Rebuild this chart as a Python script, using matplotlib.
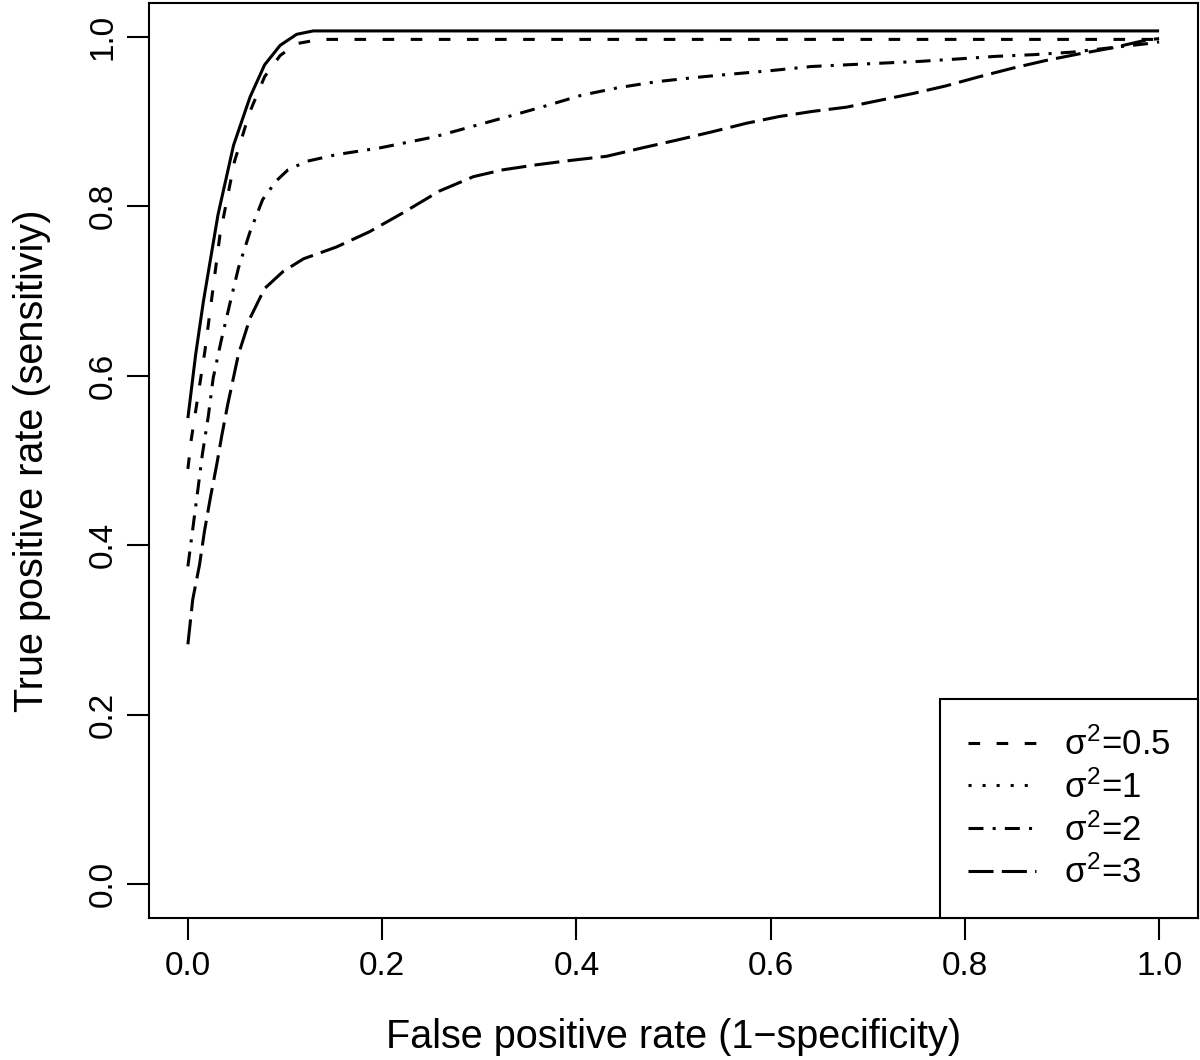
import numpy as np
import matplotlib
matplotlib.use("Agg")
import matplotlib.pyplot as plt
from matplotlib.lines import Line2D


# =========================
# 1. 数据（从原图读取的 ROC 曲线点）
# =========================

# 实线（最上面一条，图例中没有）
fpr_solid = [0.0, 0.008, 0.016, 0.031, 0.047, 0.064, 0.079, 0.095, 0.112, 0.129, 0.2, 0.4, 0.6, 0.8, 1.0]
tpr_solid = [0.55, 0.625, 0.688, 0.79, 0.872, 0.929, 0.967, 0.990, 1.003, 1.007, 1.007, 1.007, 1.007, 1.007, 1.007]

# sigma^2 = 0.5 （虚线）
fpr_05 = [0.0, 0.0035, 0.0175, 0.033, 0.048, 0.064, 0.079, 0.095, 0.112, 0.136, 0.3, 0.6, 1.0]
tpr_05 = [0.49, 0.525, 0.629, 0.766, 0.853, 0.912, 0.953, 0.978, 0.992, 0.997, 0.997, 0.997, 0.997]

# sigma^2 = 2 （点划线）
fpr_2 = [0.0, 0.005, 0.010, 0.015, 0.021, 0.026, 0.034, 0.043, 0.052, 0.064, 0.077, 0.091,
         0.103, 0.122, 0.153, 0.198, 0.254, 0.292, 0.330, 0.367, 0.405, 0.443, 0.482, 0.522,
         0.559, 0.599, 0.642, 0.678, 0.715, 0.753, 0.794, 0.832, 0.871, 0.911, 0.949, 0.988, 1.0]
tpr_2 = [0.375, 0.419, 0.463, 0.508, 0.552, 0.597, 0.640, 0.684, 0.727, 0.770, 0.808, 0.830,
         0.843, 0.853, 0.861, 0.869, 0.882, 0.894, 0.906, 0.918, 0.931, 0.940, 0.947, 0.952,
         0.956, 0.960, 0.965, 0.967, 0.969, 0.971, 0.974, 0.977, 0.979, 0.982, 0.987, 0.992, 0.994]

# sigma^2 = 3 （长虚线）
fpr_3 = [0.0, 0.005, 0.012, 0.017, 0.023, 0.030, 0.035, 0.041, 0.052, 0.064, 0.079, 0.098,
         0.119, 0.153, 0.187, 0.221, 0.259, 0.294, 0.324, 0.359, 0.393, 0.431, 0.468, 0.503,
         0.540, 0.575, 0.609, 0.643, 0.678, 0.712, 0.746, 0.780, 0.815, 0.849, 0.883, 0.918,
         0.952, 0.986, 1.0]
tpr_3 = [0.283, 0.336, 0.377, 0.416, 0.455, 0.497, 0.530, 0.566, 0.625, 0.668, 0.703, 0.723,
         0.738, 0.752, 0.770, 0.792, 0.818, 0.835, 0.843, 0.849, 0.854, 0.859, 0.869, 0.878,
         0.888, 0.898, 0.906, 0.912, 0.917, 0.925, 0.933, 0.942, 0.953, 0.963, 0.972, 0.980,
         0.987, 0.996, 0.998]

legend_labels = [r"$\sigma^2$=0.5", r"$\sigma^2$=1", r"$\sigma^2$=2", r"$\sigma^2$=3"]
x_ticks = [0.0, 0.2, 0.4, 0.6, 0.8, 1.0]
y_ticks = [0.0, 0.2, 0.4, 0.6, 0.8, 1.0]


# =========================
# 2. 字体和线型
# =========================
plt.rcParams["font.family"] = ["Liberation Sans", "DejaVu Sans"]
plt.rcParams["mathtext.fontset"] = "custom"
plt.rcParams["mathtext.rm"] = "Liberation Sans"
plt.rcParams["mathtext.it"] = "Liberation Sans"
plt.rcParams["mathtext.bf"] = "Liberation Sans:bold"

LW = 2.2
ls_dashed = (0, (3.8, 5.4))
ls_dotted = (0, (1.0, 3.6))
ls_dotdash = (0, (4.9, 3.0, 1.0, 3.0))
ls_longdash = (0, (8.2, 2.7))


# =========================
# 3. 画图
# =========================
fig = plt.figure(figsize=(12, 10.6), dpi=100)
ax = fig.add_axes([0.1242, 0.134, 0.8741, 0.8632])

common = dict(color="black", linewidth=LW, dash_capstyle="butt", solid_capstyle="butt")

ax.plot(fpr_solid, tpr_solid, linestyle="-", **common)
h05, = ax.plot(fpr_05, tpr_05, linestyle=ls_dashed, **common)
h2, = ax.plot(fpr_2, tpr_2, linestyle=ls_dotdash, **common)
h3, = ax.plot(fpr_3, tpr_3, linestyle=ls_longdash, **common)

# sigma^2 = 1 的曲线在图中看不到，只在图例中出现
h1 = Line2D([], [], linestyle=ls_dotted, **common)

ax.set_xlim(-0.04, 1.04)
ax.set_ylim(-0.04, 1.04)
ax.set_xticks(x_ticks)
ax.set_yticks(y_ticks)
ax.set_xticklabels([f"{v:.1f}" for v in x_ticks])
ax.set_yticklabels([f"{v:.1f}" for v in y_ticks])

for s in ax.spines.values():
    s.set_linewidth(1.5)

ax.tick_params(axis="both", direction="out", length=16, width=1.5, labelsize=24)
ax.tick_params(axis="x", pad=8)
ax.tick_params(axis="y", pad=6)
plt.setp(ax.get_yticklabels(), rotation=90, va="center")

ax.set_xlabel("False positive rate (1\u2212specificity)", fontsize=28.5, labelpad=26)
ax.set_ylabel("True positive rate (sensitiviy)", fontsize=28.5, labelpad=26)

leg = ax.legend(
    [h05, h1, h2, h3],
    legend_labels,
    loc="lower right",
    fontsize=25,
    frameon=True,
    fancybox=False,
    framealpha=1,
    edgecolor="black",
    borderaxespad=0,
    borderpad=0.8,
    handlelength=1.96,
    handletextpad=0.8,
    labelspacing=0.24,
)
leg.get_frame().set_linewidth(1.5)

fig.savefig("out.png", dpi=100)
